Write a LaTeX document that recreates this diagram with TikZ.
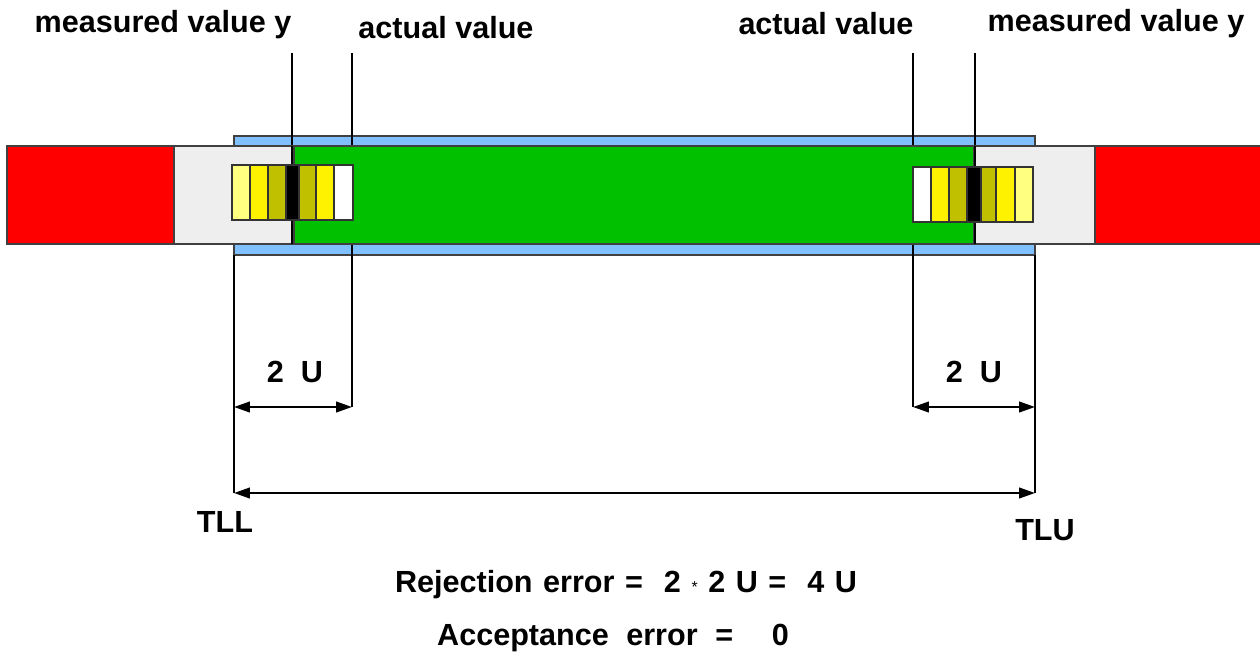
\documentclass[tikz,border=0pt]{standalone}
\usepackage{fontspec}
\setmainfont{Liberation Sans}
\usetikzlibrary{arrows.meta}

\definecolor{barblue}{RGB}{128,192,255}
\definecolor{okgreen}{RGB}{0,192,0}
\definecolor{rejred}{RGB}{255,0,0}
\definecolor{zonegray}{RGB}{238,238,238}
\definecolor{olive}{RGB}{192,192,0}
\definecolor{ylight}{RGB}{255,255,128}

\newcommand{\gsp}{\hspace{6pt}}
\newcommand{\dgsp}{\hspace{12pt}}

\tikzset{
  lbl/.style={font=\fontsize{17.4}{20}\selectfont\bfseries, inner sep=0pt},
  zone/.style={draw=black!75, line width=0.7pt},
  seg/.style={draw=black!80, line width=0.7pt},
  mline/.style={line width=1.2pt},
  dimline/.style={line width=1.2pt, {Triangle[length=9pt,width=6pt]}-{Triangle[length=9pt,width=6pt]}}
}

\begin{document}
\begin{tikzpicture}[x=0.02cm,y=-0.02cm]
  \useasboundingbox (0,0) rectangle (1260,655);

  % tolerance band
  \draw[zone, fill=barblue] (234,136) rectangle (1035,255);

  % reference lines
  \coordinate (ml) at (292,53);   \coordinate (mlb) at (292,146);
  \coordinate (al) at (352,53);   \coordinate (alb) at (352,407);
  \coordinate (ar) at (913,53);   \coordinate (arb) at (913,407);
  \coordinate (mr) at (975,53);   \coordinate (mrb) at (975,146);
  \coordinate (tll) at (234,255); \coordinate (tllb) at (234,493);
  \coordinate (tlu) at (1035,255);\coordinate (tlub) at (1035,493);
  \draw[mline] (ml)--(mlb);
  \draw[mline] (al)--(alb);
  \draw[mline] (ar)--(arb);
  \draw[mline] (mr)--(mrb);
  \draw[mline] (tll)--(tllb);
  \draw[mline] (tlu)--(tlub);

  % zones
  \draw[zone, fill=zonegray] (174,146) rectangle (294,244);
  \draw[zone, fill=zonegray] (974,146) rectangle (1095,244);
  \draw[zone, fill=rejred] (7,146) rectangle (174,244);
  \draw[zone, fill=rejred] (1095,146) rectangle (1261,244);
  \draw[zone, fill=okgreen] (294,146) rectangle (974,244);
  \draw[line width=1.2pt] (292,146)--(292,244);
  \draw[line width=1.2pt] (975,146)--(975,244);

  % uncertainty bars
  \foreach \xa/\xb/\col in {232/250/ylight,250/268/yellow,268/286/olive,286/299/black,
                            299/316/olive,316/334/yellow,334/353/white}
    \draw[seg, fill=\col] (\xa,165) rectangle (\xb,220);
  \foreach \xa/\xb/\col in {913/931/white,931/949/yellow,949/967/olive,967/981/black,
                            981/996/olive,996/1015/yellow,1015/1033/ylight}
    \draw[seg, fill=\col] (\xa,167) rectangle (\xb,222);

  % dimensions
  \coordinate (dl1) at (234,407); \coordinate (dl2) at (352,407);
  \coordinate (dr1) at (913,407); \coordinate (dr2) at (1035,407);
  \coordinate (dt1) at (234,493); \coordinate (dt2) at (1035,493);
  \draw[dimline] (dl1)--(dl2);
  \draw[dimline] (dr1)--(dr2);
  \draw[dimline] (dt1)--(dt2);

  % labels
  \draw (163,25) node[lbl] (mvl) {measured value y};
  \draw (446,28) node[lbl] (avl) {actual value};
  \draw (826,24) node[lbl] (avr) {actual value};
  \draw (1116,24) node[lbl] (mvr) {measured value y};
  \draw (295,372) node[lbl] (ul) {2~~U};
  \draw (974,372) node[lbl] (ur) {2~~U};
  \draw (225,522) node[lbl] (tllt) {TLL};
  \draw (1045,530) node[lbl] (tlut) {TLU};
  \draw (626,585) node[lbl] (rej) {Rejection\gsp error\gsp=\dgsp 2\gsp{\normalfont\small *}\gsp 2\gsp U\gsp=\dgsp 4\gsp U};
  \draw (613,638) node[lbl] (acc) {Acceptance\hspace{10pt}error\hspace{10pt}=\hspace{22pt}0};
\end{tikzpicture}
\end{document}
